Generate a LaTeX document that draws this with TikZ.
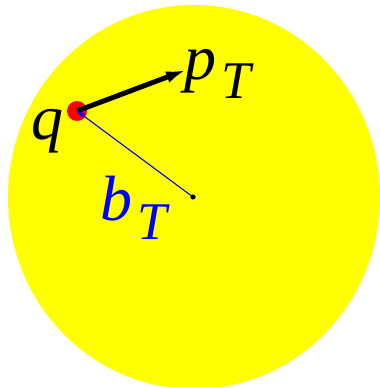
\documentclass[tikz,border=0pt]{standalone}
\usepackage{fontspec}
\setmainfont{Liberation Serif}
\usetikzlibrary{arrows.meta, positioning}

\definecolor{disk}{RGB}{255,255,0}
\newcommand{\biglab}[2]{\fontsize{64}{64}\selectfont\itshape #1\kern5pt\raisebox{-19pt}{\fontsize{53}{53}\selectfont #2}}

\tikzset{
  momentum/.style={line width=5pt, -{Latex[length=20pt, width=12pt]}},
  impact/.style={blue, line width=1.1pt, -{Stealth[length=9pt, width=6pt, open]}},
  lab/.style={inner sep=0pt, anchor=base west}
}

\begin{document}
\begin{tikzpicture}[x=1pt, y=-1pt]
    \useasboundingbox (0,0) rectangle (379,387);
    \fill[disk] (194,197) ellipse [x radius=186, y radius=192];
    \coordinate (c) at (193,197);
    \coordinate (tip) at (186,70);
    \node[circle, fill=red, minimum size=20pt, inner sep=0pt] (q) at (77,111) {};
    \draw[momentum] (q.center) -- (tip);
    \draw[impact] (c) -- (q.center);
    \fill (c) circle (2.6pt);
    \node[lab] (qlab) at (31,140) {\fontsize{64}{64}\selectfont\itshape q};
    \node[lab] (ptlab) at (184,80) {\biglab{p}{T}};
    \node[lab, text=blue] (btlab) at (100,220) {\biglab{b}{T}};
\end{tikzpicture}
\end{document}
